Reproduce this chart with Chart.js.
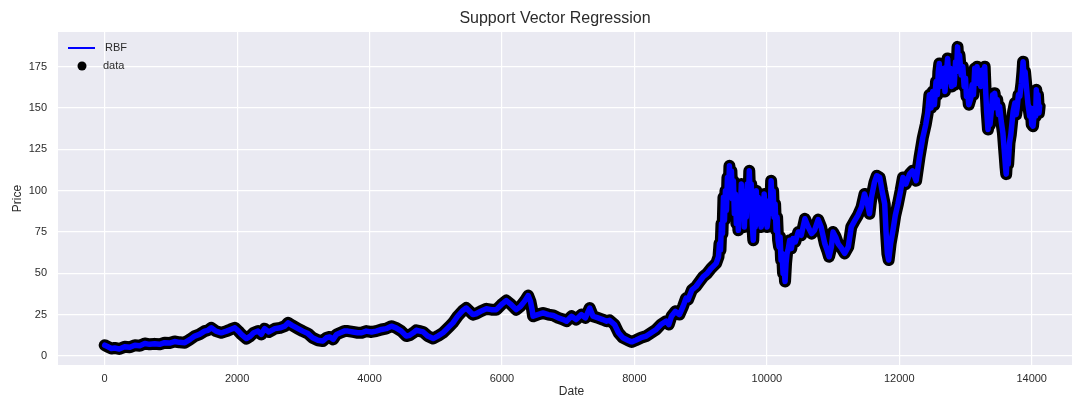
<!DOCTYPE html>
<html>
<head>
<meta charset="utf-8">
<script src="https://cdn.jsdelivr.net/npm/chart.js@4.4.1/dist/chart.umd.min.js"></script>
<style>
  html, body { margin: 0; padding: 0; background: #ffffff; overflow: hidden; }
  #wrap { width: 1110px; height: 399px; }
</style>
</head>
<body>
<div id="wrap"><canvas id="svr" width="1110" height="399"></canvas></div>
<script>
// Trading-day index of each observation
const dates = [
  0, 50, 100, 150, 220, 300, 380, 455, 530, 605, 680, 755, 830, 905, 980, 1055, 1130, 1210, 1290, 1360,
  1430, 1510, 1560, 1610, 1680, 1760, 1840, 1900, 1965, 2020, 2065, 2140, 2200, 2250, 2315, 2365, 2415, 2480, 2570, 2650,
  2720, 2770, 2830, 2920, 2990, 3070, 3140, 3220, 3295, 3350, 3400, 3450, 3500, 3560, 3620, 3675, 3750, 3820, 3880, 3950,
  4030, 4100, 4180, 4250, 4330, 4400, 4480, 4555, 4605, 4660, 4705, 4760, 4810, 4880, 4960, 5030, 5110, 5160, 5210, 5260,
  5330, 5410, 5460, 5510, 5560, 5610, 5680, 5765, 5840, 5915, 5990, 6065, 6140, 6215, 6280, 6340, 6395, 6430, 6455, 6470,
  6540, 6620, 6700, 6775, 6850, 6925, 6975, 7050, 7120, 7200, 7260, 7325, 7375, 7450, 7520, 7580, 7625, 7700, 7760, 7825,
  7900, 7960, 8020, 8100, 8180, 8255, 8330, 8400, 8480, 8520, 8560, 8620, 8680, 8735, 8780, 8810, 8870, 8930, 8985, 9040,
  9100, 9160, 9235, 9270, 9285, 9300, 9315, 9330, 9345, 9360, 9375, 9390, 9405, 9420, 9435, 9450, 9465, 9480, 9495, 9510,
  9525, 9540, 9555, 9570, 9585, 9600, 9615, 9630, 9645, 9660, 9675, 9690, 9705, 9720, 9735, 9750, 9765, 9780, 9795, 9810,
  9825, 9840, 9855, 9870, 9885, 9900, 9915, 9930, 9945, 9960, 9975, 9990, 10005, 10020, 10035, 10050, 10065, 10080, 10095, 10110,
  10125, 10140, 10155, 10170, 10185, 10200, 10215, 10230, 10245, 10260, 10275, 10290, 10305, 10320, 10345, 10370, 10395, 10430, 10475, 10520,
  10575, 10625, 10675, 10720, 10775, 10820, 10875, 10910, 10940, 10975, 11000, 11040, 11075, 11130, 11175, 11230, 11275, 11330, 11375, 11430,
  11475, 11520, 11550, 11580, 11625, 11660, 11705, 11740, 11780, 11800, 11820, 11840, 11870, 11905, 11940, 11980, 12020, 12055, 12100, 12155,
  12200, 12255, 12305, 12355, 12400, 12430, 12455, 12480, 12505, 12530, 12555, 12575, 12590, 12605, 12620, 12640, 12655, 12675, 12690, 12710,
  12730, 12750, 12770, 12790, 12810, 12830, 12850, 12865, 12880, 12895, 12910, 12935, 12960, 12980, 13000, 13015, 13030, 13050, 13080, 13100,
  13120, 13140, 13155, 13175, 13190, 13210, 13230, 13250, 13270, 13290, 13305, 13320, 13340, 13355, 13370, 13390, 13410, 13425, 13440, 13460,
  13480, 13500, 13515, 13540, 13565, 13590, 13605, 13615, 13630, 13645, 13665, 13685, 13700, 13720, 13745, 13765, 13780, 13800, 13820, 13845,
  13860, 13870, 13885, 13900, 13920, 13945, 13970, 13985, 14000, 14020, 14045, 14060, 14070, 14085, 14095, 14110, 14120
];

// Closing price at each date
const prices = [
  6.5, 5.5, 4.5, 4.8, 4.2, 5.5, 5.2, 6.5, 6.2, 7.5, 7.0, 7.3, 7.0, 8.0, 7.8, 8.7, 8.2, 8.0, 10, 12,
  13, 15, 15.5, 17, 15, 14, 15, 16, 17, 15, 13, 10.5, 12, 14, 15, 13, 16.5, 14.5, 16.5, 17,
  18, 20, 18.5, 16.5, 15, 13.5, 11, 9.5, 9, 11, 11.5, 10, 13, 14, 15, 15, 14.5, 14, 14, 15,
  14.5, 15, 16, 16.5, 18, 17, 15, 12, 12.5, 14, 15.5, 15, 14.5, 12, 10.5, 12, 14, 16, 18, 20,
  24, 27.5, 29, 27, 25, 25.5, 27, 28.5, 28, 28, 31, 33.5, 31, 28, 30, 33, 36.5, 33, 28, 24,
  25, 26, 25, 24.5, 23, 22, 21, 24, 22, 25, 23, 29, 24, 23, 22, 21, 21.5, 19, 14, 11,
  9.5, 8.5, 9.5, 11, 12, 14, 16, 19, 21, 19, 24, 27, 25, 30, 35, 34, 40, 42, 45, 48,
  50, 53, 56, 60, 68, 64, 80, 74, 96, 82, 100, 88, 108, 96, 115, 104, 112, 95, 106, 86,
  98, 80, 92, 76, 96, 88, 104, 86, 100, 78, 92, 84, 104, 92, 112, 96, 104, 80, 70, 86,
  78, 100, 88, 96, 80, 92, 78, 95, 86, 98, 80, 90, 78, 84, 94, 86, 106, 92, 100, 84,
  92, 76, 84, 70, 66, 72, 58, 62, 50, 54, 45, 56, 62, 64, 70, 65, 71, 69, 75, 73,
  83, 78, 74, 76, 82.5, 78, 68, 64, 60, 66, 75, 72, 68, 65, 62, 66, 78, 82, 85, 90,
  98, 92, 86, 96, 105, 109, 108, 100, 92, 75, 62, 58, 68, 76, 85, 92, 100, 108, 104, 110,
  112, 106, 120, 132, 140, 147, 158, 150, 160, 152, 166, 158, 172, 177, 163, 172, 165, 174, 160, 170,
  180, 166, 174, 163, 170, 164, 178, 172, 187, 176, 182, 170, 175, 163, 168, 157, 160, 152, 156, 164,
  158, 174, 168, 175, 165, 170, 163, 173, 168, 175, 160, 148, 137, 145, 140, 148, 158, 150, 159, 152,
  155, 146, 151, 142, 135, 122, 114, 110, 120, 116, 129, 134, 140, 148, 153, 146, 150, 158, 157, 165,
  172, 178, 168, 172, 163, 152, 145, 150, 140, 139, 150, 145, 161, 152, 158, 147, 151
];

// The RBF model output follows the observed prices
const rbfFit = prices;

const xTickValues = [0, 2000, 4000, 6000, 8000, 10000, 12000, 14000];
const yTickValues = [0, 25, 50, 75, 100, 125, 150, 175];

const chartTitle = 'Support Vector Regression';

const toPoints = (xs, ys) => xs.map((x, i) => ({ x: x, y: ys[i] }));

const FONT = '"Liberation Sans", Arial, sans-serif';
const TEXT = '#2b2b2b';
const PANEL = '#eaeaf2';

// Page and panel background
const panelBackground = {
  id: 'panelBackground',
  beforeDraw(chart) {
    const { ctx, chartArea: a } = chart;
    ctx.save();
    ctx.fillStyle = '#ffffff';
    ctx.fillRect(0, 0, chart.width, chart.height);
    ctx.fillStyle = PANEL;
    ctx.fillRect(a.left, a.top, a.right - a.left, a.bottom - a.top);
    ctx.restore();
  }
};

// Figure title, centred on the full figure width
const figureTitle = {
  id: 'figureTitle',
  afterDraw(chart) {
    const ctx = chart.ctx;
    ctx.save();
    ctx.font = '16px ' + FONT;
    ctx.fillStyle = TEXT;
    ctx.textAlign = 'center';
    ctx.textBaseline = 'middle';
    ctx.fillText(chartTitle, chart.width / 2, 19);
    ctx.restore();
  }
};

// Legend inside the upper-left corner of the panel
const innerLegend = {
  id: 'innerLegend',
  afterDraw(chart) {
    const { ctx, chartArea: a } = chart;
    const ds = chart.data.datasets;
    ctx.save();
    ctx.font = '11px ' + FONT;
    ctx.textBaseline = 'middle';
    ctx.textAlign = 'left';
    ctx.strokeStyle = ds[0].legendColor;
    ctx.lineWidth = 2;
    ctx.beginPath();
    ctx.moveTo(a.left + 10, a.top + 16);
    ctx.lineTo(a.left + 37, a.top + 16);
    ctx.stroke();
    ctx.fillStyle = TEXT;
    ctx.fillText(ds[0].label, a.left + 47, a.top + 16);
    ctx.fillStyle = ds[1].legendColor;
    ctx.beginPath();
    ctx.arc(a.left + 24, a.top + 34, 4.5, 0, Math.PI * 2);
    ctx.fill();
    ctx.fillStyle = TEXT;
    ctx.fillText(ds[1].label, a.left + 45, a.top + 34);
    ctx.restore();
  }
};

new Chart(document.getElementById('svr'), {
  type: 'scatter',
  data: {
    datasets: [
      {
        label: 'RBF',
        data: toPoints(dates, rbfFit),
        showLine: true,
        borderColor: '#0000ff',
        legendColor: '#0000ff',
        borderWidth: 5.5,
        pointRadius: 0,
        borderJoinStyle: 'round',
        borderCapStyle: 'round',
        tension: 0
      },
      {
        label: 'data',
        data: toPoints(dates, prices),
        showLine: true,
        borderColor: '#000000',
        legendColor: '#000000',
        borderWidth: 12,
        pointRadius: 0,
        borderJoinStyle: 'round',
        borderCapStyle: 'round',
        tension: 0
      }
    ]
  },
  options: {
    responsive: false,
    animation: false,
    devicePixelRatio: 1,
    layout: { padding: { left: 0, right: 25, top: 32, bottom: 0 } },
    plugins: {
      legend: { display: false },
      tooltip: { enabled: false },
      title: { display: false }
    },
    scales: {
      x: {
        type: 'linear',
        min: -705,
        max: 14805,
        afterBuildTicks: s => { s.ticks = xTickValues.map(v => ({ value: v })); },
        afterFit: s => { s.height = 34; },
        ticks: {
          color: TEXT,
          font: { family: FONT, size: 11 },
          padding: 7,
          maxRotation: 0,
          callback: v => String(v)
        },
        grid: { color: '#ffffff', lineWidth: 1.2, drawTicks: false },
        border: { display: false },
        title: {
          display: true,
          text: 'Date',
          color: TEXT,
          font: { family: FONT, size: 12 },
          padding: { top: 0, bottom: 0 }
        }
      },
      y: {
        type: 'linear',
        min: -5.5,
        max: 196,
        afterBuildTicks: s => { s.ticks = yTickValues.map(v => ({ value: v })); },
        afterFit: s => { s.width = 58; },
        ticks: {
          color: TEXT,
          font: { family: FONT, size: 11 },
          padding: 11,
          callback: v => String(v)
        },
        grid: { color: '#ffffff', lineWidth: 1.2, drawTicks: false },
        border: { display: false },
        title: {
          display: true,
          text: 'Price',
          color: TEXT,
          font: { family: FONT, size: 12 },
          padding: { top: 10, bottom: 0 }
        }
      }
    }
  },
  plugins: [panelBackground, figureTitle, innerLegend]
});
</script>
</body>
</html>
